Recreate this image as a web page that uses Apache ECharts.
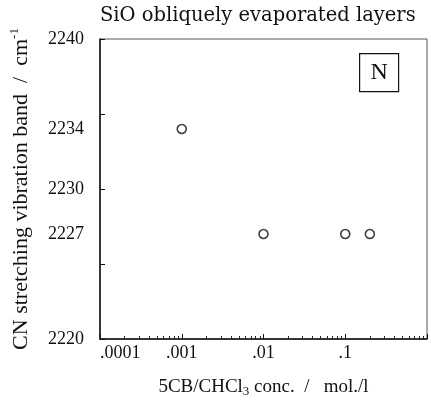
<!DOCTYPE html>
<html>
<head>
  <meta charset="utf-8">
  <title>SiO obliquely evaporated layers</title>
  <script src="https://cdn.jsdelivr.net/npm/echarts@6.0.0/dist/echarts.min.js"></script>
  <style>
    html, body { margin: 0; padding: 0; background: #fff; }
    #main { width: 431px; height: 407px; }
  </style>
</head>
<body>
<div id="main"></div>
<script type="text/javascript">
// measured points: 5CB concentration (mol/l) -> CN band (cm-1)
var concs = [0.001, 0.01, 0.1, 0.2];
var bands = [2234, 2227, 2227, 2227];

// axis labels as printed
var xTickExp = [-4, -3, -2, -1, 0];
var xTickLabels = ['.0001', '.001', '.01', '.1', ''];
var yTickLabels = [2220, 2227, 2230, 2234, 2240];

// log minor ticks (2..9 in every decade), in log10 space for the helper axis
var minorTicks = [];
for (var e = -4; e < 0; e++) {
  for (var m = 2; m <= 9; m++) minorTicks.push(e + Math.log10(m));
}

var serif = 'Liberation Serif';
var myChart = echarts.init(document.getElementById('main'));

var points = [];
for (var i = 0; i < concs.length; i++) points.push([concs[i], bands[i]]);

option = {
  animation: false,
  backgroundColor: '#fff',
  title: {
    text: 'SiO obliquely evaporated layers',
    left: 95,
    top: 1,
    textStyle: { fontFamily: 'DejaVu Serif', fontSize: 19.5, fontWeight: 'normal', color: '#111' }
  },
  grid: {
    left: 99, right: 4, top: 39, bottom: 68,
    show: true, borderColor: '#555', borderWidth: 1
  },
  xAxis: [{
    type: 'log',
    logBase: 10,
    min: 0.0001,
    max: 1,
    name: '5CB/CHCl{sub|3} conc.  /   mol./l',
    nameLocation: 'middle',
    nameGap: 38,
    nameTextStyle: {
      fontFamily: serif, fontSize: 19, color: '#111',
      rich: { sub: { fontFamily: serif, fontSize: 13, color: '#111', padding: [8, 0, 0, 0] } }
    },
    axisLine: { onZero: false, lineStyle: { color: '#111', width: 1.5 } },
    axisTick: { inside: false, length: -5, lineStyle: { color: '#111' } },
    minorTick: { show: false },
    splitLine: { show: false },
    axisLabel: {
      fontFamily: serif, fontSize: 18, color: '#111', margin: 5,
      alignMinLabel: 'left',
      formatter: function (v) {
        var k = xTickExp.indexOf(Math.round(Math.log10(v)));
        return k < 0 ? '' : xTickLabels[k];
      }
    }
  }, {
    // helper axis only for the small log ticks
    type: 'value',
    position: 'bottom',
    min: -4,
    max: 0,
    axisLine: { show: false, onZero: false },
    axisLabel: { show: false },
    splitLine: { show: false },
    axisTick: { inside: false, length: -3, customValues: minorTicks, lineStyle: { color: '#222' } }
  }],
  yAxis: {
    type: 'value',
    position: 'left',
    min: 2220,
    max: 2240,
    interval: 5,
    name: 'CN stretching vibration band  /  cm{sup|-1}',
    nameLocation: 'middle',
    nameRotate: 90,
    nameGap: 66,
    nameTextStyle: {
      fontFamily: serif, fontSize: 22, color: '#111',
      rich: { sup: { fontFamily: serif, fontSize: 13, color: '#111', padding: [0, 0, 13, 0] } }
    },
    axisLine: { show: true, onZero: false, lineStyle: { color: '#111', width: 1.5 } },
    axisTick: { show: true, inside: false, length: -5, lineStyle: { color: '#111' } },
    splitLine: { show: false },
    axisLabel: {
      customValues: yTickLabels,
      formatter: function (v) { return String(v); },
      fontFamily: serif, fontSize: 18, color: '#111', margin: 16
    }
  },
  series: [{
    type: 'scatter',
    xAxisIndex: 0,
    data: points,
    symbol: 'circle',
    symbolSize: 9,
    itemStyle: { color: '#fff', borderColor: '#111', borderWidth: 1.6 }
  }],
  graphic: [{
    type: 'group',
    left: 359,
    top: 53,
    children: [{
      type: 'rect',
      shape: { x: 0, y: 0, width: 39, height: 38 },
      style: { fill: '#fff', stroke: '#111', lineWidth: 1.2 }
    }, {
      type: 'text',
      x: 19.5,
      y: 19,
      style: { text: 'N', fontFamily: serif, fontSize: 24, fill: '#111', align: 'center', verticalAlign: 'middle' }
    }]
  }]
};
myChart.setOption(option);
</script>
</body>
</html>
